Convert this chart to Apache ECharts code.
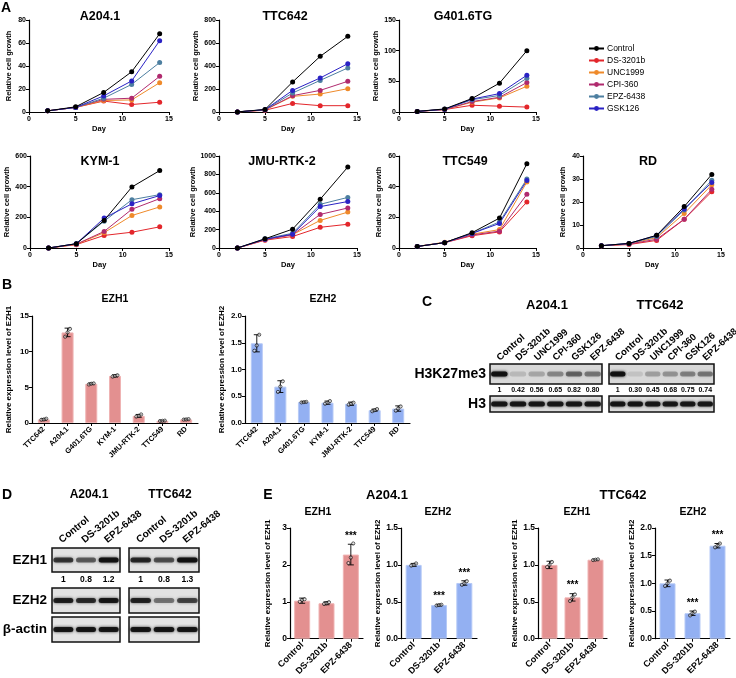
<!DOCTYPE html>
<html><head><meta charset="utf-8">
<script src="https://cdn.jsdelivr.net/npm/echarts@6/dist/echarts.min.js"></script>
<style>html,body{margin:0;padding:0;background:#fff}#c{width:736px;height:678px}</style>
</head><body><div id="c"></div>
<script>
// ---------- DATA ----------
const treatments = ['Control','DS-3201b','UNC1999','CPI-360','EPZ-6438','GSK126'];
const days = [2,5,8,11,14];
// rows follow treatments order: Control, DS-3201b, UNC1999, CPI-360, EPZ-6438, GSK126
const A204_1   = [[1,4.5,17,35,68],[1,4,9.5,6.5,8.5],[1,4,10,10.5,25.5],[1,4,11,12,31],[1,4,12,24,43],[1,4,14,27,62]];
const TTC642   = [[1,22,261,484,658],[1,15,75,55,55],[1,18,136,156,203],[1,18,142,188,267],[1,20,165,275,383],[1,20,188,296,420]];
const G401_6TG = [[1,5,22,47,100],[1,4,11,9.5,8],[1,4,16,23,42],[1,4,17,24,48],[1,4.5,20,27,55],[1,4.5,21,30,60]];
const KYM_1    = [[0,28,180,398,505],[0,22,82,103,138],[0,24,100,212,268],[0,25,108,253,322],[0,28,175,315,348],[0,28,195,288,342]];
const JMU_RTK_2= [[0,100,205,530,880],[0,85,125,225,258],[0,90,145,300,390],[0,90,145,365,435],[0,100,160,475,550],[0,95,150,450,505]];
const TTC549   = [[1,3.5,10,19.5,55],[1,3.5,8,10.5,30],[1,3.8,9,12,43],[1,3.5,8.5,11,35],[1,3.5,9.5,17,45],[1,3.5,9.5,16,44]];
const RD       = [[1,2,5.5,18,32],[1,1.5,3.3,12.5,24.5],[1,1.8,4.5,15,27.5],[1,1.7,3.8,12.5,25.5],[1,2,5,16.5,29.5],[1,2,5.5,17,28.5]];

const cellLines = ['TTC642','A204.1','G401.6TG','KYM-1','JMU-RTK-2','TTC549','RD'];
const B_EZH1_mean = [0.5,12.7,5.5,6.6,1.0,0.3,0.5];
const B_EZH1_sd   = [0.1,0.6,0.1,0.15,0.2,0.05,0.05];
const B_EZH1_reps = [[0.45,0.5,0.6],[12.1,12.7,13.2],[5.4,5.5,5.55],[6.5,6.6,6.7],[0.9,1.0,1.2],[0.28,0.3,0.33],[0.48,0.5,0.55]];
const B_EZH2_mean = [1.49,0.68,0.39,0.38,0.36,0.24,0.27];
const B_EZH2_sd   = [0.16,0.11,0.01,0.03,0.03,0.02,0.05];
const B_EZH2_reps = [[1.35,1.45,1.65],[0.58,0.68,0.78],[0.385,0.39,0.395],[0.36,0.38,0.41],[0.34,0.36,0.38],[0.22,0.24,0.26],[0.23,0.27,0.31]];

const E_groups = ['Control','DS-3201b','EPZ-6438'];
const E_A204_EZH1_mean = [1.03,0.96,2.28], E_A204_EZH1_sd = [0.07,0.04,0.28], E_A204_EZH1_reps = [[1.0,1.05,1.07],[0.94,0.96,0.99],[2.05,2.2,2.58]], E_A204_EZH1_sig = [2];
const E_A204_EZH2_mean = [1.0,0.455,0.755], E_A204_EZH2_sd = [0.02,0.01,0.03], E_A204_EZH2_reps = [[0.99,1.0,1.02],[0.45,0.455,0.46],[0.73,0.75,0.78]], E_A204_EZH2_sig = [1,2];
const E_TTC_EZH1_mean = [1.0,0.56,1.07], E_TTC_EZH1_sd = [0.05,0.05,0.005], E_TTC_EZH1_reps = [[0.97,1.0,1.04],[0.51,0.56,0.6],[1.065,1.07,1.075]], E_TTC_EZH1_sig = [1];
const E_TTC_EZH2_mean = [1.0,0.46,1.68], E_TTC_EZH2_sd = [0.06,0.04,0.04], E_TTC_EZH2_reps = [[0.95,1.0,1.05],[0.42,0.46,0.49],[1.65,1.68,1.72]], E_TTC_EZH2_sig = [1,2];

const C_lanes = ['Control','DS-3201b','UNC1999','CPI-360','GSK126','EPZ-6438'];
const C_A204_quant = ['1','0.42','0.56','0.65','0.82','0.80'];
const C_TTC_quant  = ['1','0.30','0.45','0.68','0.75','0.74'];
const C_A204_K27_band = [0.95,0.14,0.22,0.35,0.5,0.42];
const C_TTC_K27_band  = [0.95,0.1,0.25,0.3,0.38,0.42];
const C_H3_band = [0.92,0.92,0.9,0.9,0.9,0.9];
const D_lanes = ['Control','DS-3201b','EPZ-6438'];
const D_A204_quant = ['1','0.8','1.2'];
const D_TTC_quant  = ['1','0.8','1.3'];
const D_A204_EZH1_band = [0.72,0.55,0.95], D_TTC_EZH1_band = [0.8,0.6,0.95];
const D_A204_EZH2_band = [0.85,0.78,0.9],  D_TTC_EZH2_band = [0.82,0.45,0.65];
const D_actin_band = [0.92,0.92,0.92];

// ---------- STYLE ----------
const FONT = '"Liberation Sans", Arial, sans-serif';
const colors = ['#000000','#e3262b','#ef8a2a','#b02a6e','#4d7fa0','#2a22c4'];
const grids=[], xAxes=[], yAxes=[], series=[], graphics=[];
const bold = (s)=>({fontFamily:FONT,fontWeight:'bold',fontSize:s,color:'#000'});
function txt(t,x,y,size,align,weight,rot){
  graphics.push({type:'text',x:x,y:y,rotation:rot||0,z:50,style:{text:t,font:(weight||'bold')+' '+size+'px '+FONT,fill:'#000',align:align||'center',verticalAlign:'middle'}});
}
const axLine = {show:true,onZero:false,lineStyle:{color:'#000',width:1.2}};
const axTick = {show:true,length:3,lineStyle:{color:'#000',width:1}};

function linePanel(title, tx, ty, left, top, w, h, ymax, yint, data){
  grids.push({left:left,top:top,width:w,height:h});
  const gi = grids.length-1;
  xAxes.push({gridIndex:gi,type:'value',min:0,max:15,interval:5,name:'Day',nameLocation:'middle',nameGap:13,
    nameTextStyle:bold(7.5),axisLine:axLine,axisTick:axTick,axisLabel:Object.assign(bold(7),{margin:4}),splitLine:{show:false}});
  yAxes.push({gridIndex:gi,type:'value',min:0,max:ymax,interval:yint,name:'Relative cell growth',nameLocation:'middle',nameGap:16,
    nameTextStyle:bold(7.5),axisLine:axLine,axisTick:axTick,axisLabel:Object.assign(bold(7),{margin:3,formatter:v=>String(v)}),splitLine:{show:false}});
  const xi=xAxes.length-1, yi=yAxes.length-1;
  [1,2,3,4,5,0].forEach(k=>{
    series.push({type:'line',name:treatments[k],xAxisIndex:xi,yAxisIndex:yi,
      data:days.map((d,j)=>[d,data[k][j]]),symbol:'circle',symbolSize:5,
      itemStyle:{color:colors[k]},lineStyle:{width:1,color:colors[k]},animation:false,z:k===0?4:3});
  });
  txt(title,tx,ty,12.5);
}

function barPanel(o){
  grids.push({left:o.left,top:o.top,width:o.w,height:o.h});
  const gi=grids.length-1;
  xAxes.push({gridIndex:gi,type:'category',data:o.cats,axisLine:axLine,axisTick:Object.assign({},axTick,{alignWithLabel:true}),
    axisLabel:Object.assign(bold(o.xfs),{rotate:45,interval:0,margin:5})});
  yAxes.push({gridIndex:gi,type:'value',min:0,max:o.ymax,interval:o.yint,name:o.yname,nameLocation:'middle',nameGap:o.nameGap,
    nameTextStyle:bold(o.nfs),axisLine:axLine,axisTick:axTick,splitLine:{show:false},
    axisLabel:Object.assign(bold(o.yfs),{margin:3,formatter:v=>o.dec?v.toFixed(o.dec):String(v)})});
  const xi=xAxes.length-1, yi=yAxes.length-1;
  series.push({type:'bar',xAxisIndex:xi,yAxisIndex:yi,data:o.mean,barWidth:o.barW,
    itemStyle:{color:o.color,borderColor:o.edge,borderWidth:1},animation:false,z:2});
  series.push({type:'custom',xAxisIndex:xi,yAxisIndex:yi,data:o.mean.map((m,i)=>[i,m,o.sd[i]]),z:5,animation:false,
    renderItem:(p,api)=>{
      const i=api.value(0),m=api.value(1),s=api.value(2);
      const t=api.coord([i,m+s]), b=api.coord([i,m-s]); const cw=o.cap;
      const st={stroke:'#000',lineWidth:0.9};
      return {type:'group',children:[
        {type:'line',shape:{x1:t[0],y1:t[1],x2:b[0],y2:b[1]},style:st},
        {type:'line',shape:{x1:t[0]-cw,y1:t[1],x2:t[0]+cw,y2:t[1]},style:st},
        {type:'line',shape:{x1:b[0]-cw,y1:b[1],x2:b[0]+cw,y2:b[1]},style:st}]};
    }});
  const dots=[];
  o.reps.forEach((arr,i)=>arr.forEach((v,j)=>dots.push({value:[i,v],symbolOffset:[(j-1)*2.4,0]})));
  series.push({type:'scatter',xAxisIndex:xi,yAxisIndex:yi,data:dots,symbol:'circle',symbolSize:3.2,z:6,animation:false,
    itemStyle:{color:'rgba(255,255,255,0.6)',borderColor:'#000',borderWidth:0.8}});
  if(o.sig){
    series.push({type:'custom',xAxisIndex:xi,yAxisIndex:yi,data:o.sig.map(i=>[i,o.mean[i]+o.sd[i]]),z:7,animation:false,
      renderItem:(p,api)=>{const c=api.coord([api.value(0),api.value(1)]);
        return {type:'text',x:c[0],y:c[1]-3,style:{text:'***',font:'bold 10px '+FONT,fill:'#000',align:'center',verticalAlign:'bottom'}};}});
  }
}

function blot(o){
  grids.push({left:o.left,top:o.top,width:o.w,height:o.h,show:true,borderColor:'#111',borderWidth:1.5,backgroundColor:o.bg||'#dedede'});
  const gi=grids.length-1;
  const lanes=o.band.map((v,i)=>String(i));
  xAxes.push({gridIndex:gi,type:'category',data:o.bottom||lanes,position:'bottom',axisLine:{show:false},axisTick:{show:false},
    axisLabel:Object.assign(bold(o.bfs||7),{show:!!o.bottom,interval:0,margin:o.bmargin||3})});
  const xi=xAxes.length-1;
  yAxes.push({gridIndex:gi,type:'value',min:0,max:1,show:false});
  const yi=yAxes.length-1;
  series.push({type:'custom',xAxisIndex:xi,yAxisIndex:yi,data:o.band.map((v,i)=>[i,v]),animation:false,z:3,
    renderItem:(p,api)=>{
      const i=api.value(0),a=api.value(1);
      const c=api.coord([i,0.5]); const lw=api.size([1,0])[0]; const bh=o.bandH;
      const col='rgba(15,15,15,'+a+')';
      return {type:'rect',shape:{x:c[0]-lw*0.44,y:c[1]-bh/2,width:lw*0.88,height:bh,r:bh/2},
        style:{fill:col,shadowBlur:3,shadowColor:col}};
    }});
  if(o.topLabels){
    series.push({type:'custom',xAxisIndex:xi,yAxisIndex:yi,data:o.topLabels.map((t,i)=>[i]),animation:false,z:8,clip:false,
      renderItem:(p,api)=>{
        const i=api.value(0); const c=api.coord([i,1]);
        return {type:'text',x:c[0]+o.tdx,y:c[1]-o.tmargin,rotation:o.rot*Math.PI/180,
          style:{text:o.topLabels[i],font:'bold '+o.tfs+'px '+FONT,fill:'#000',align:'left',verticalAlign:'middle'}};
      }});
  }
}

// ---------- PANEL A ----------
txt('A',6,8,14);
linePanel('A204.1',100,17,29,20,140,92,80,20,A204_1);
linePanel('TTC642',285,17,219,20,138,92,800,200,TTC642);
linePanel('G401.6TG',463,17,399,20,137,92,150,50,G401_6TG);
linePanel('KYM-1',100,162,30,156,139,92,600,200,KYM_1);
linePanel('JMU-RTK-2',282,162,219,156,138,92,1000,200,JMU_RTK_2);
linePanel('TTC549',465,162,399,156,137,92,60,20,TTC549);
linePanel('RD',648,162,583,156,138,92,40,10,RD);

// ---------- PANEL B ----------
txt('B',7,285,14);
txt('EZH1',115,299,10.5); txt('EZH2',323,299,10.5);
barPanel({left:32,top:316,w:166,h:107,cats:cellLines,mean:B_EZH1_mean,sd:B_EZH1_sd,reps:B_EZH1_reps,color:'#e39090',edge:'#efb3b3',
  ymax:15,yint:5,dec:0,yname:'Relative expression level of EZH1',nameGap:19,nfs:8,xfs:7.5,yfs:8,barW:12,cap:3});
barPanel({left:245,top:316,w:165,h:107,cats:cellLines,mean:B_EZH2_mean,sd:B_EZH2_sd,reps:B_EZH2_reps,color:'#93b0f2',edge:'#b5c9f6',
  ymax:2,yint:0.5,dec:1,yname:'Relative expression level of EZH2',nameGap:19,nfs:8,xfs:7.5,yfs:8,barW:12,cap:3});

// ---------- PANEL C ----------
txt('C',427,302,14);
txt('A204.1',547,305,13); txt('TTC642',660,305,13);
txt('H3K27me3',486,374,14,'right'); txt('H3',486,404,14,'right');
blot({left:490,top:364,w:112,h:20,band:C_A204_K27_band,bandH:5,bottom:C_A204_quant,bfs:7,bmargin:3,topLabels:C_lanes,tfs:9.5,rot:42,tmargin:5,tdx:-1,bg:'#d8d8d8'});
blot({left:609,top:364,w:105,h:20,band:C_TTC_K27_band,bandH:5,bottom:C_TTC_quant,bfs:7,bmargin:3,topLabels:C_lanes,tfs:9.5,rot:42,tmargin:5,tdx:-1,bg:'#d8d8d8'});
blot({left:490,top:396,w:112,h:16,band:C_H3_band,bandH:5,bg:'#dcdcdc'});
blot({left:609,top:396,w:105,h:16,band:C_H3_band,bandH:5,bg:'#dcdcdc'});

// ---------- PANEL D ----------
txt('D',7,495,14);
txt('A204.1',89,495,12); txt('TTC642',170,495,12);
txt('EZH1',47,560,13.5,'right'); txt('EZH2',47,600,13.5,'right'); txt('β-actin',47,629,13.5,'right');
blot({left:52,top:548,w:68,h:24,band:D_A204_EZH1_band,bandH:5,bottom:D_A204_quant,bfs:8.5,bmargin:3,topLabels:D_lanes,tfs:10,rot:39,tmargin:7,tdx:-3,bg:'#e2e2e2'});
blot({left:129,top:548,w:70,h:24,band:D_TTC_EZH1_band,bandH:5,bottom:D_TTC_quant,bfs:8.5,bmargin:3,topLabels:D_lanes,tfs:10,rot:39,tmargin:7,tdx:-3,bg:'#e2e2e2'});
blot({left:52,top:588,w:68,h:25,band:D_A204_EZH2_band,bandH:5,bg:'#e2e2e2'});
blot({left:129,top:588,w:70,h:25,band:D_TTC_EZH2_band,bandH:5,bg:'#e2e2e2'});
blot({left:52,top:617,w:68,h:25,band:D_actin_band,bandH:5,bg:'#e4e4e4'});
blot({left:129,top:617,w:70,h:25,band:D_actin_band,bandH:5,bg:'#e4e4e4'});

// ---------- PANEL E ----------
txt('E',268,495,14);
txt('A204.1',387,495,13); txt('TTC642',623,495,13);
txt('EZH1',318,512,10.5); txt('EZH2',438,512,10.5); txt('EZH1',577,512,10.5); txt('EZH2',693,512,10.5);
const eCommon = {cats:E_groups,nameGap:18,nfs:8,xfs:9,yfs:8.5,barW:16,cap:3,top:528,h:111};
barPanel(Object.assign({},eCommon,{left:290,w:73,mean:E_A204_EZH1_mean,sd:E_A204_EZH1_sd,reps:E_A204_EZH1_reps,sig:E_A204_EZH1_sig,
  color:'#e39090',edge:'#efb3b3',ymax:3,yint:1,dec:0,yname:'Relative expression level of EZH1'}));
barPanel(Object.assign({},eCommon,{left:401,w:76,mean:E_A204_EZH2_mean,sd:E_A204_EZH2_sd,reps:E_A204_EZH2_reps,sig:E_A204_EZH2_sig,
  color:'#93b0f2',edge:'#b5c9f6',ymax:1.5,yint:0.5,dec:1,yname:'Relative expression level of EZH2'}));
barPanel(Object.assign({},eCommon,{left:538,w:69,mean:E_TTC_EZH1_mean,sd:E_TTC_EZH1_sd,reps:E_TTC_EZH1_reps,sig:E_TTC_EZH1_sig,
  color:'#e39090',edge:'#efb3b3',ymax:1.5,yint:0.5,dec:1,yname:'Relative expression level of EZH1'}));
barPanel(Object.assign({},eCommon,{left:655,w:75,mean:E_TTC_EZH2_mean,sd:E_TTC_EZH2_sd,reps:E_TTC_EZH2_reps,sig:E_TTC_EZH2_sig,
  color:'#93b0f2',edge:'#b5c9f6',ymax:2,yint:0.5,dec:1,yname:'Relative expression level of EZH2'}));

const chart = echarts.init(document.getElementById('c'),null,{renderer:'canvas'});
chart.setOption({
  backgroundColor:'#fff',animation:false,
  textStyle:{fontFamily:FONT},
  legend:{data:treatments,orient:'vertical',left:583,top:38,itemWidth:15,itemHeight:6,itemGap:1,
    textStyle:{fontFamily:FONT,fontSize:8.5,color:'#000',lineHeight:11,padding:[0,0,0,-2]}},
  grid:grids,xAxis:xAxes,yAxis:yAxes,series:series,graphic:graphics
});
</script></body></html>
